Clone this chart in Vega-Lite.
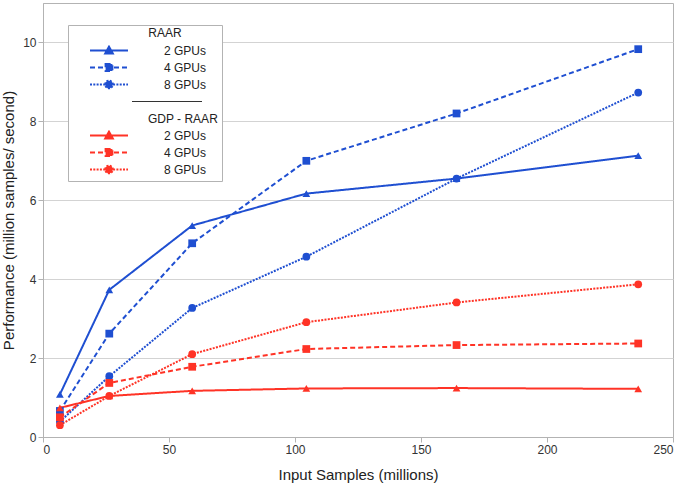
{
  "$schema": "https://vega.github.io/schema/vega-lite/v6.json",
  "width": 630,
  "height": 434,
  "autosize": {"type": "none"},
  "padding": {"left": 43, "top": 3, "right": 12, "bottom": 46},
  "background": "white",
  "data": {
    "values": [
      {"x": 6.7, "y": 1.08, "series": "RAAR 2 GPUs"},
      {"x": 26.3, "y": 3.73, "series": "RAAR 2 GPUs"},
      {"x": 59.2, "y": 5.36, "series": "RAAR 2 GPUs"},
      {"x": 104.5, "y": 6.17, "series": "RAAR 2 GPUs"},
      {"x": 164.1, "y": 6.55, "series": "RAAR 2 GPUs"},
      {"x": 236.2, "y": 7.13, "series": "RAAR 2 GPUs"},
      {"x": 6.7, "y": 0.66, "series": "RAAR 4 GPUs"},
      {"x": 26.3, "y": 2.62, "series": "RAAR 4 GPUs"},
      {"x": 59.2, "y": 4.91, "series": "RAAR 4 GPUs"},
      {"x": 104.5, "y": 7.0, "series": "RAAR 4 GPUs"},
      {"x": 164.1, "y": 8.2, "series": "RAAR 4 GPUs"},
      {"x": 236.2, "y": 9.83, "series": "RAAR 4 GPUs"},
      {"x": 6.7, "y": 0.39, "series": "RAAR 8 GPUs"},
      {"x": 26.3, "y": 1.54, "series": "RAAR 8 GPUs"},
      {"x": 59.2, "y": 3.27, "series": "RAAR 8 GPUs"},
      {"x": 104.5, "y": 4.57, "series": "RAAR 8 GPUs"},
      {"x": 164.1, "y": 6.55, "series": "RAAR 8 GPUs"},
      {"x": 236.2, "y": 8.73, "series": "RAAR 8 GPUs"},
      {"x": 6.7, "y": 0.74, "series": "GDP - RAAR 2 GPUs"},
      {"x": 26.3, "y": 1.04, "series": "GDP - RAAR 2 GPUs"},
      {"x": 59.2, "y": 1.17, "series": "GDP - RAAR 2 GPUs"},
      {"x": 104.5, "y": 1.23, "series": "GDP - RAAR 2 GPUs"},
      {"x": 164.1, "y": 1.24, "series": "GDP - RAAR 2 GPUs"},
      {"x": 236.2, "y": 1.22, "series": "GDP - RAAR 2 GPUs"},
      {"x": 6.7, "y": 0.5, "series": "GDP - RAAR 4 GPUs"},
      {"x": 26.3, "y": 1.37, "series": "GDP - RAAR 4 GPUs"},
      {"x": 59.2, "y": 1.78, "series": "GDP - RAAR 4 GPUs"},
      {"x": 104.5, "y": 2.23, "series": "GDP - RAAR 4 GPUs"},
      {"x": 164.1, "y": 2.33, "series": "GDP - RAAR 4 GPUs"},
      {"x": 236.2, "y": 2.37, "series": "GDP - RAAR 4 GPUs"},
      {"x": 6.7, "y": 0.3, "series": "GDP - RAAR 8 GPUs"},
      {"x": 26.3, "y": 1.04, "series": "GDP - RAAR 8 GPUs"},
      {"x": 59.2, "y": 2.1, "series": "GDP - RAAR 8 GPUs"},
      {"x": 104.5, "y": 2.91, "series": "GDP - RAAR 8 GPUs"},
      {"x": 164.1, "y": 3.41, "series": "GDP - RAAR 8 GPUs"},
      {"x": 236.2, "y": 3.87, "series": "GDP - RAAR 8 GPUs"}
    ]
  },
  "encoding": {
    "x": {
      "field": "x", "type": "quantitative",
      "scale": {"domain": [0, 250], "nice": false},
      "axis": {"values": [0, 50, 100, 150, 200, 250], "title": "Input Samples (millions)", "grid": false, "titlePadding": 12}
    },
    "y": {
      "field": "y", "type": "quantitative",
      "scale": {"domain": [0, 11], "nice": false},
      "axis": {"values": [0, 2, 4, 6, 8, 10], "title": "Performance (million samples/ second)", "grid": true, "titlePadding": 6}
    }
  },
  "layer": [
    {
      "mark": {"type": "line", "strokeWidth": 2},
      "encoding": {
        "color": {
          "field": "series", "type": "nominal",
          "scale": {
            "domain": ["RAAR 2 GPUs", "RAAR 4 GPUs", "RAAR 8 GPUs", "—", "GDP - RAAR", "GDP - RAAR 2 GPUs", "GDP - RAAR 4 GPUs", "GDP - RAAR 8 GPUs"],
            "range": ["#1f4fd1", "#1f4fd1", "#1f4fd1", "#333333", "#ff3326", "#ff3326", "#ff3326", "#ff3326"]
          },
          "legend": {
            "title": "RAAR",
            "orient": "none",
            "legendX": 25,
            "legendY": 22,
            "padding": 3,
            "strokeColor": "#b3b3b3",
            "fillColor": "white",
            "symbolSize": 1600,
            "clipHeight": 17,
            "symbolOffset": 32,
            "labelOffset": 49,
            "titlePadding": 2,
            "rowPadding": 0,
            "titleAnchor": "middle",
            "titleFont": "Liberation Sans",
            "titleFontSize": 12,
            "titleFontWeight": "normal",
            "titleColor": "#222222",
            "labelFont": "Liberation Sans",
            "labelFontSize": 12,
            "labelColor": "#222222",
            "labelExpr": "datum.value == '—' ? '' : datum.value == 'GDP - RAAR' ? 'GDP - RAAR' : slice(datum.value, -6)",
            "encode": {
              "title": {"update": {"dx": {"value": 20}}},
              "labels": {"update": {"dx": {"signal": "datum.value == 'GDP - RAAR' ? -16 : 0"}}},
              "symbols": {
                "update": {
                  "shape": {"signal": "datum.value == '—' ? 'M1.15,0H4.65' : datum.value == 'GDP - RAAR' ? 'M0,0' : indexof(datum.value, '2 GPUs') >= 0 ? 'M-0.95,0H0.95M0,-0.19L0.19,0.15H-0.19Z' : indexof(datum.value, '4 GPUs') >= 0 ? 'M-0.95,0H0.95M-0.17,-0.17H0.17V0.17H-0.17Z' : 'M-0.95,0H0.95M-0.19,0A0.19,0.19,0,1,1,0.19,0A0.19,0.19,0,1,1,-0.19,0Z'"},
                  "stroke": {"signal": "datum.value == '—' ? '#333333' : indexof(datum.value, 'GDP') == 0 ? '#ff3326' : '#1f4fd1'"},
                  "fill": {"signal": "datum.value == '—' ? 'transparent' : indexof(datum.value, 'GDP') == 0 ? '#ff3326' : '#1f4fd1'"},
                  "strokeWidth": {"signal": "datum.value == '—' ? 1 : 2"},
                  "strokeDash": {"signal": "indexof(datum.value, '4 GPUs') >= 0 ? [5, 3] : indexof(datum.value, '8 GPUs') >= 0 ? [2, 1.3] : [1, 0]"},
                  "opacity": {"value": 1}
                }
              }
            }
          }
        },
        "strokeDash": {
          "field": "series", "type": "nominal",
          "scale": {
            "domain": ["RAAR 2 GPUs", "RAAR 4 GPUs", "RAAR 8 GPUs", "GDP - RAAR 2 GPUs", "GDP - RAAR 4 GPUs", "GDP - RAAR 8 GPUs"],
            "range": [[1, 0], [5, 3], [2, 1.3], [1, 0], [5, 3], [2, 1.3]]
          },
          "legend": null
        }
      }
    },
    {
      "mark": {"type": "point", "filled": true, "opacity": 1, "size": 60},
      "encoding": {
        "fill": {
          "field": "series", "type": "nominal",
          "scale": {
            "domain": ["RAAR 2 GPUs", "RAAR 4 GPUs", "RAAR 8 GPUs", "GDP - RAAR 2 GPUs", "GDP - RAAR 4 GPUs", "GDP - RAAR 8 GPUs"],
            "range": ["#1f4fd1", "#1f4fd1", "#1f4fd1", "#ff3326", "#ff3326", "#ff3326"]
          },
          "legend": null
        },
        "shape": {
          "field": "series", "type": "nominal",
          "scale": {
            "domain": ["RAAR 2 GPUs", "RAAR 4 GPUs", "RAAR 8 GPUs", "GDP - RAAR 2 GPUs", "GDP - RAAR 4 GPUs", "GDP - RAAR 8 GPUs"],
            "range": ["triangle-up", "square", "circle", "triangle-up", "square", "circle"]
          },
          "legend": null
        }
      }
    }
  ],
  "config": {
    "view": {"stroke": "#b3b3b3", "strokeWidth": 1},
    "axis": {
      "domainColor": "#b3b3b3",
      "tickColor": "#b3b3b3",
      "gridColor": "#d3d3d3",
      "tickSize": 5,
      "labelPadding": 2,
      "labelFont": "Liberation Sans",
      "labelFontSize": 12,
      "labelColor": "#333333",
      "titleFont": "Liberation Sans",
      "titleFontSize": 15,
      "titleFontWeight": "normal",
      "titleColor": "#222222"
    }
  }
}
